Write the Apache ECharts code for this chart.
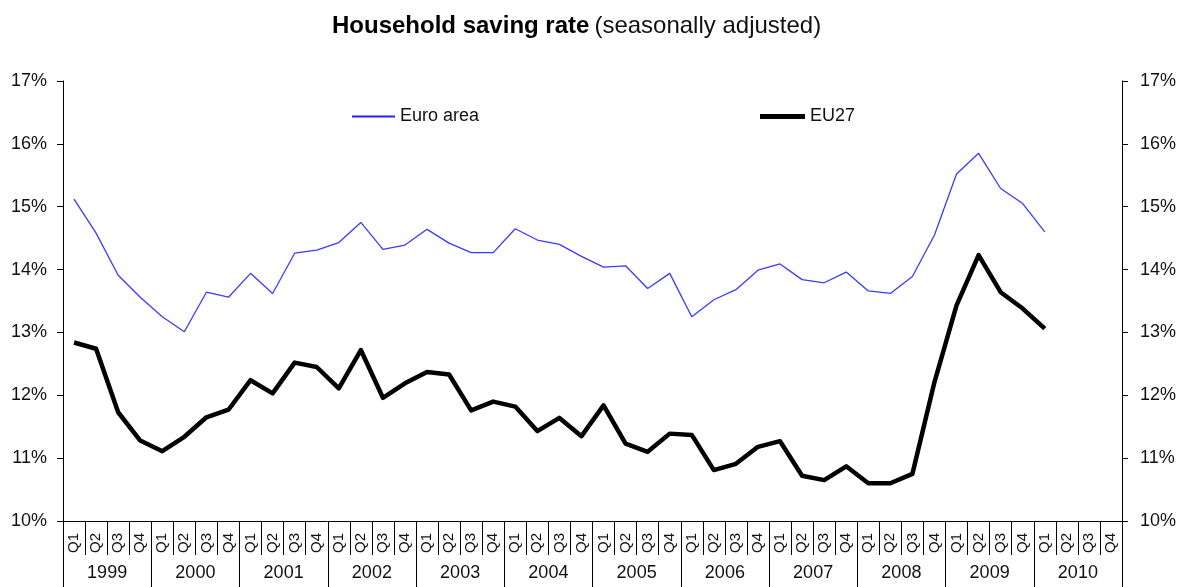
<!DOCTYPE html>
<html>
<head>
<meta charset="utf-8">
<script src="https://cdn.jsdelivr.net/npm/echarts@6/dist/echarts.min.js"></script>
<style>
html,body{margin:0;padding:0;background:#fff;}
#chart{width:1184px;height:587px;}
</style>
</head>
<body>
<div id="chart"></div>
<script>
const years = ['1999','2000','2001','2002','2003','2004','2005','2006','2007','2008','2009','2010'];
const quarterLabels = ['Q1','Q2','Q3','Q4'];
const euroArea = [15.12,14.58,13.91,13.56,13.25,13.01,13.64,13.56,13.94,13.62,14.26,14.31,
  14.43,14.75,14.32,14.39,14.64,14.42,14.27,14.27,14.65,14.47,14.40,14.21,
  14.04,14.06,13.70,13.94,13.25,13.52,13.68,13.99,14.09,13.84,13.79,13.96,
  13.66,13.62,13.89,14.55,15.52,15.85,15.29,15.05,14.60,null,null,null];
const eu27 = [12.84,12.74,11.73,11.28,11.11,11.34,11.65,11.77,12.24,12.03,12.52,12.45,
  12.11,12.72,11.96,12.19,12.37,12.33,11.76,11.90,11.82,11.43,11.64,11.35,
  11.84,11.23,11.10,11.39,11.37,10.81,10.91,11.18,11.27,10.72,10.65,10.87,
  10.60,10.60,10.75,12.21,13.43,14.23,13.64,13.38,13.06,null,null,null];
const yTicks = {min:10, max:17, interval:1};

const categories = [];
years.forEach(y => quarterLabels.forEach(q => categories.push(y + ' ' + q)));

const FONT = '"Liberation Sans", Arial, sans-serif';
const chart = echarts.init(document.getElementById('chart'), null, {renderer:'canvas'});
const yAxisCommon = {
  type:'value', min:yTicks.min, max:yTicks.max, interval:yTicks.interval,
  splitLine:{show:false},
  axisLine:{show:true, lineStyle:{color:'#000', width:1}},
  axisTick:{show:true, length:6, lineStyle:{color:'#000'}},
  axisLabel:{formatter:'{value}%', color:'#111', fontSize:18, fontFamily:FONT, margin:16}
};
chart.setOption({
  animation:false,
  backgroundColor:'#fff',
  title:{
    text:'{b|Household saving rate} {n|(seasonally adjusted)}',
    left:327, top:9,
    textStyle:{rich:{
      b:{fontWeight:'bold', fontSize:24, fontFamily:FONT, color:'#000'},
      n:{fontWeight:'normal', fontSize:24, fontFamily:FONT, color:'#111'}
    }}
  },
  legend:[
    {data:['Euro area'], left:352, top:106, padding:0, icon:'rect', itemWidth:43, itemHeight:2,
     textStyle:{fontSize:18, fontFamily:FONT, color:'#111', lineHeight:21}},
    {data:['EU27'], left:760, top:106, padding:0, icon:'rect', itemWidth:45, itemHeight:5,
     textStyle:{fontSize:18, fontFamily:FONT, color:'#111', lineHeight:21}}
  ],
  grid:{left:63, right:62, top:81, bottom:66, containLabel:false},
  xAxis:[
    {type:'category', data:categories, boundaryGap:true, position:'bottom',
     axisLine:{show:true, lineStyle:{color:'#000', width:1}},
     axisTick:{show:true, interval:0, length:34, lineStyle:{color:'#000'}},
     axisLabel:{interval:0, rotate:90, margin:12, fontSize:15, fontFamily:FONT, color:'#111',
       formatter: v => v.split(' ')[1]}},
    {type:'category', data:years, boundaryGap:true, position:'bottom',
     axisLine:{show:false},
     axisTick:{show:true, interval:0, length:70, lineStyle:{color:'#000'}},
     axisLabel:{interval:0, margin:43, fontSize:18, fontFamily:FONT, color:'#111'}}
  ],
  yAxis:[
    Object.assign({}, yAxisCommon, {position:'left'}),
    Object.assign({}, yAxisCommon, {position:'right', axisLabel:Object.assign({}, yAxisCommon.axisLabel, {margin:18})})
  ],
  series:[
    {name:'Euro area', type:'line', xAxisIndex:0, yAxisIndex:0, data:euroArea, showSymbol:false, symbol:'none',
     lineStyle:{color:'#3a3aff', width:1.3}, itemStyle:{color:'#2020ff'}},
    {name:'EU27', type:'line', xAxisIndex:0, yAxisIndex:0, data:eu27, showSymbol:false, symbol:'none',
     lineStyle:{color:'#000', width:4.5, join:'round'}, itemStyle:{color:'#000'}}
  ]
});
</script>
</body>
</html>
